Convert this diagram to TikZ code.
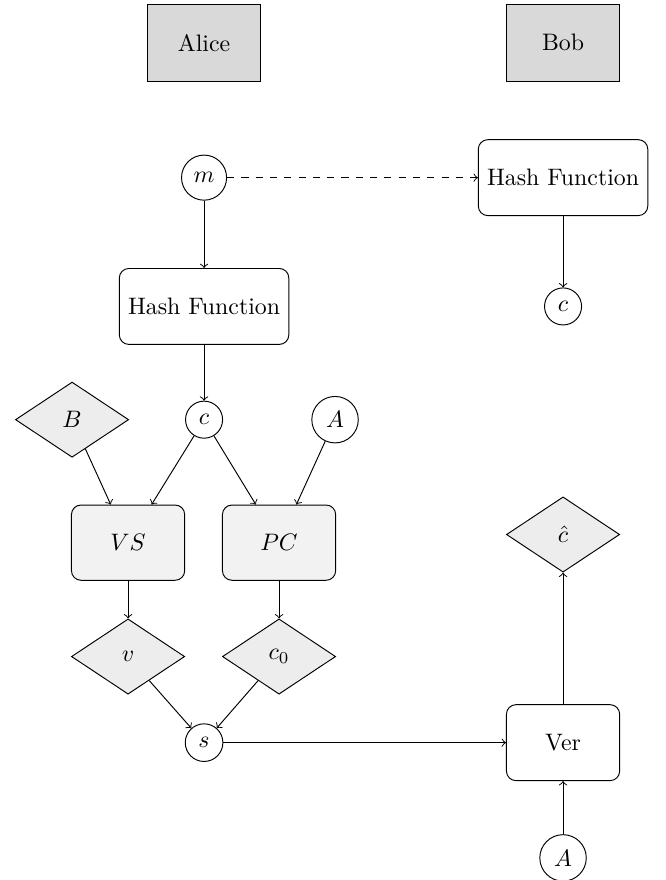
\documentclass[tikz,border=0pt]{standalone}
\usepackage{tikz}
\usetikzlibrary{shapes,arrows,positioning}

\begin{document}
\begin{tikzpicture}[->,>=to,shorten >=0pt,on grid,
	party node/.style={draw, fill=black!15, minimum width=1.67cm, minimum height=1.14cm},
	func node/.style={draw, rounded corners, minimum width=2.5cm, minimum height=1.12cm},
	alg node/.style={draw, rounded corners, fill=black!5, minimum width=1.67cm, minimum height=1.11cm},
	val node/.style={draw, diamond, fill=black!7, minimum width=1.67cm, minimum height=1.11cm, inner sep=0pt},
	var node/.style={draw, circle}]
			\useasboundingbox (0,0) rectangle (9.81,-12.98);
			
			\node[party node] (1) at (3.01,-0.63) {Alice};
			\node[party node] (2) [right=5.295cm of 1] {Bob};
			
			\node[var node] (3) [below=1.99cm of 1] {$m$};
			\node[func node] (4) [below=1.9cm of 3] {Hash Function};
			\node[var node] (5) [below=1.67cm of 4] {$c$};
			\node[val node] (6) [left=1.947cm of 5] {$B$};
			\node[var node] (7) [right=1.932cm of 5] {$A$};
			
			\node[alg node] (8) [below left=1.814cm and 1.121cm of 5] {$VS$};
			\node[alg node] (9) [below right=1.814cm and 1.106cm of 5] {$PC$};
			\node[val node] (10) [below=1.68cm of 8] {$v$};
			\node[val node] (11) [below=1.68cm of 9] {$c_0$};
			\node[var node] (12) [below right=1.27cm and 1.121cm of 10] {$s$};
			
			\node[func node] (13) [below=1.99cm of 2] {Hash Function};
			\node[var node] (14) [below=1.9cm of 13] {$c$};
			
			\node[func node, minimum width=1.67cm] (15) [right=5.295cm of 12] {Ver};
			\node[val node] (16) [above=3.07cm of 15] {$\hat{c}$};
			\node[var node] (17) [below=1.7cm of 15] {$A$};
			
			\path
			(3) edge (4)
			(3) edge [dashed] (13)
			(13) edge (14)
			(4) edge (5)
			
			(5) edge (8)
			(5) edge (9)
			(6) edge (8)
			(7) edge (9)
			
			(8) edge (10)
			(9) edge (11)
			(10) edge (12)
			(11) edge (12)
			
			(12) edge (15)
			(15) edge (16)
			(17) edge (15);
			
\end{tikzpicture}
\end{document}
